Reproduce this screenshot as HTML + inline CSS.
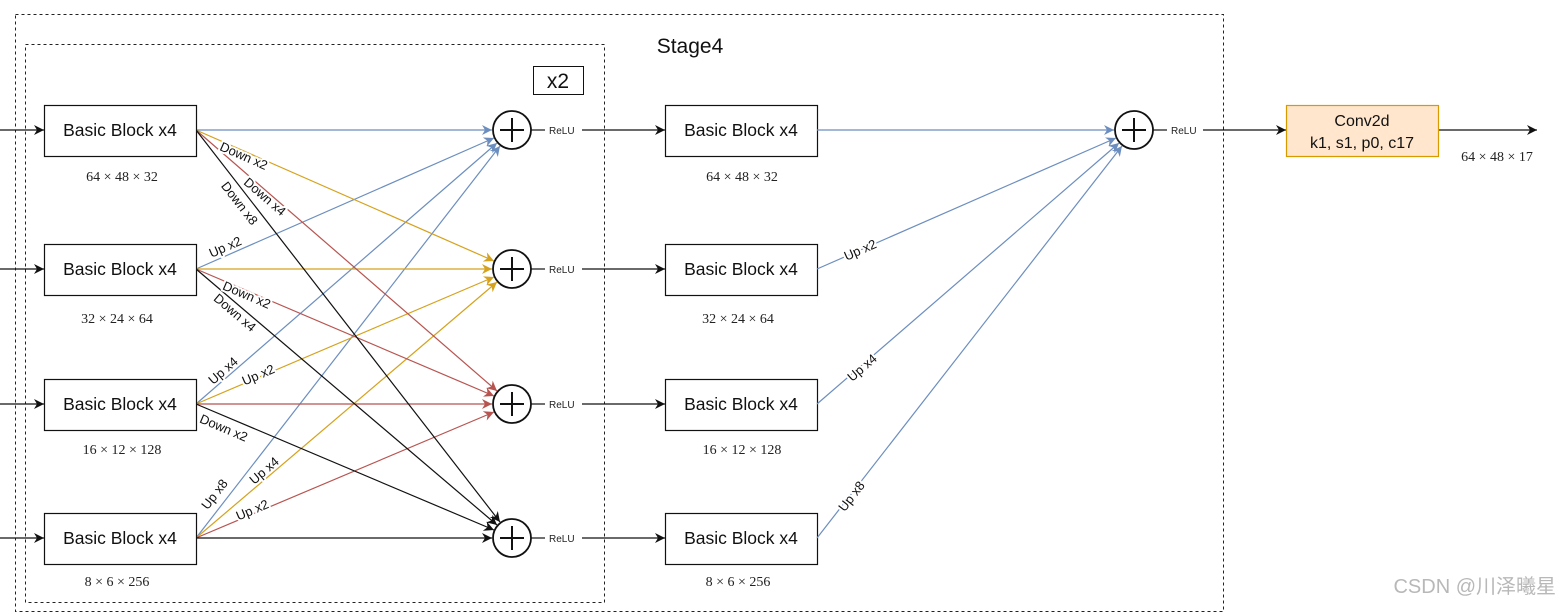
<!DOCTYPE html>
<html><head><meta charset="utf-8"><style>
html,body{margin:0;padding:0;background:#fff;}
svg{display:block;}
.bt{font-family:"Liberation Sans",sans-serif;font-size:17.5px;fill:#111;}
.dim{font-family:"Liberation Serif",serif;font-size:14px;fill:#222;}
.relu{font-family:"Liberation Sans",sans-serif;font-size:10px;fill:#222;}
.el{font-family:"Liberation Sans",sans-serif;font-size:13px;fill:#111;stroke:#fff;stroke-width:4px;paint-order:stroke;stroke-linejoin:round;}
</style></head><body>
<svg width="1564" height="613" viewBox="0 0 1564 613" xmlns="http://www.w3.org/2000/svg">
<defs>
<marker id="ab" viewBox="0 0 10 10" refX="10" refY="5" markerWidth="10" markerHeight="10" markerUnits="userSpaceOnUse" orient="auto"><path d="M0,0 L10,5 L0,10 L3,5 z" fill="#6c8ebf"/></marker>
<marker id="ay" viewBox="0 0 10 10" refX="10" refY="5" markerWidth="10" markerHeight="10" markerUnits="userSpaceOnUse" orient="auto"><path d="M0,0 L10,5 L0,10 L3,5 z" fill="#d6a21d"/></marker>
<marker id="ar" viewBox="0 0 10 10" refX="10" refY="5" markerWidth="10" markerHeight="10" markerUnits="userSpaceOnUse" orient="auto"><path d="M0,0 L10,5 L0,10 L3,5 z" fill="#b85450"/></marker>
<marker id="ak" viewBox="0 0 10 10" refX="10" refY="5" markerWidth="10" markerHeight="10" markerUnits="userSpaceOnUse" orient="auto"><path d="M0,0 L10,5 L0,10 L3,5 z" fill="#111"/></marker>
</defs>
<rect x="15.5" y="14.5" width="1208" height="597" fill="none" stroke="#222" stroke-dasharray="3,3"/>
<rect x="25.5" y="44.5" width="579" height="558" fill="none" stroke="#222" stroke-dasharray="3,3"/>
<text x="690" y="53" class="bt" style="font-size:21px" text-anchor="middle">Stage4</text>
<rect x="533.5" y="66.5" width="50" height="28" fill="#fff" stroke="#111"/>
<text x="558" y="88" class="bt" style="font-size:21px" text-anchor="middle">x2</text>

<g stroke="#111" stroke-width="1.2" marker-end="url(#ak)">
<line x1="0" y1="130" x2="44" y2="130"/><line x1="0" y1="269" x2="44" y2="269"/>
<line x1="0" y1="404" x2="44" y2="404"/><line x1="0" y1="538" x2="44" y2="538"/>
</g>

<g fill="none" stroke-width="1.2">
<line x1="196" y1="130" x2="492" y2="130" stroke="#6c8ebf" marker-end="url(#ab)"/>
<line x1="196" y1="269" x2="494" y2="138" stroke="#6c8ebf" marker-end="url(#ab)"/>
<line x1="196" y1="404" x2="497" y2="143" stroke="#6c8ebf" marker-end="url(#ab)"/>
<line x1="196" y1="538" x2="500" y2="146" stroke="#6c8ebf" marker-end="url(#ab)"/>
<line x1="196" y1="130" x2="494" y2="261" stroke="#d6a21d" marker-end="url(#ay)"/>
<line x1="196" y1="269" x2="492" y2="269" stroke="#d6a21d" marker-end="url(#ay)"/>
<line x1="196" y1="404" x2="494" y2="277" stroke="#d6a21d" marker-end="url(#ay)"/>
<line x1="196" y1="538" x2="497" y2="282" stroke="#d6a21d" marker-end="url(#ay)"/>
<line x1="196" y1="130" x2="497" y2="391" stroke="#b85450" marker-end="url(#ar)"/>
<line x1="196" y1="269" x2="494" y2="396" stroke="#b85450" marker-end="url(#ar)"/>
<line x1="196" y1="404" x2="492" y2="404" stroke="#b85450" marker-end="url(#ar)"/>
<line x1="196" y1="538" x2="494" y2="412" stroke="#b85450" marker-end="url(#ar)"/>
<line x1="196" y1="130" x2="500" y2="522" stroke="#111" marker-end="url(#ak)"/>
<line x1="196" y1="269" x2="497" y2="525" stroke="#111" marker-end="url(#ak)"/>
<line x1="196" y1="404" x2="494" y2="530" stroke="#111" marker-end="url(#ak)"/>
<line x1="196" y1="538" x2="492" y2="538" stroke="#111" marker-end="url(#ak)"/>
</g>
<text class="el" text-anchor="middle" transform="translate(242,160) rotate(23.7)">Down x2</text>
<text class="el" text-anchor="middle" transform="translate(262,200) rotate(40.9)">Down x4</text>
<text class="el" text-anchor="middle" transform="translate(236,206) rotate(52.2)">Down x8</text>
<text class="el" text-anchor="middle" transform="translate(227,251) rotate(-23.7)">Up x2</text>
<text class="el" text-anchor="middle" transform="translate(245,299) rotate(23.1)">Down x2</text>
<text class="el" text-anchor="middle" transform="translate(232,316) rotate(40.4)">Down x4</text>
<text class="el" text-anchor="middle" transform="translate(226,374) rotate(-40.9)">Up x4</text>
<text class="el" text-anchor="middle" transform="translate(260,379) rotate(-23.1)">Up x2</text>
<text class="el" text-anchor="middle" transform="translate(222,432) rotate(23)">Down x2</text>
<text class="el" text-anchor="middle" transform="translate(218,497) rotate(-52.2)">Up x8</text>
<text class="el" text-anchor="middle" transform="translate(267,474) rotate(-40.4)">Up x4</text>
<text class="el" text-anchor="middle" transform="translate(254,514) rotate(-23)">Up x2</text>

<g fill="#fff" stroke="#111" stroke-width="1.2">
<rect x="44.5" y="105.5" width="152" height="51"/><rect x="44.5" y="244.5" width="152" height="51"/>
<rect x="44.5" y="379.5" width="152" height="51"/><rect x="44.5" y="513.5" width="152" height="51"/>
</g>
<g class="bt" text-anchor="middle">
<text x="120" y="136">Basic Block x4</text><text x="120" y="275">Basic Block x4</text>
<text x="120" y="410">Basic Block x4</text><text x="120" y="544">Basic Block x4</text>
</g>
<g class="dim" text-anchor="middle">
<text x="122" y="181">64 × 48 × 32</text><text x="117" y="323">32 × 24 × 64</text>
<text x="122" y="454">16 × 12 × 128</text><text x="117" y="586">8 × 6 × 256</text>
</g>

<g fill="#fff" stroke="#111" stroke-width="1.8">
<circle cx="512" cy="130" r="19"/><circle cx="512" cy="269" r="19"/>
<circle cx="512" cy="404" r="19"/><circle cx="512" cy="538" r="19"/>
<circle cx="1134" cy="130" r="19"/>
</g>
<g stroke="#111" stroke-width="2">
<path d="M512,118V142M500,130H524"/><path d="M512,257V281M500,269H524"/>
<path d="M512,392V416M500,404H524"/><path d="M512,526V550M500,538H524"/>
<path d="M1134,118V142M1122,130H1146"/>
</g>
<g stroke="#111" stroke-width="1.2">
<line x1="531" y1="130" x2="545" y2="130"/><line x1="531" y1="269" x2="545" y2="269"/>
<line x1="531" y1="404" x2="545" y2="404"/><line x1="531" y1="538" x2="545" y2="538"/>
<line x1="1153" y1="130" x2="1167" y2="130"/>
</g>
<g stroke="#111" stroke-width="1.2" marker-end="url(#ak)">
<line x1="582" y1="130" x2="665" y2="130"/><line x1="582" y1="269" x2="665" y2="269"/>
<line x1="582" y1="404" x2="665" y2="404"/><line x1="582" y1="538" x2="665" y2="538"/>
<line x1="1203" y1="130" x2="1286" y2="130"/>
<line x1="1438" y1="130" x2="1537" y2="130"/>
</g>
<g class="relu">
<text x="549" y="134">ReLU</text><text x="549" y="273">ReLU</text>
<text x="549" y="408">ReLU</text><text x="549" y="542">ReLU</text>
<text x="1171" y="134">ReLU</text>
</g>

<g fill="#fff" stroke="#111" stroke-width="1.2">
<rect x="665.5" y="105.5" width="152" height="51"/><rect x="665.5" y="244.5" width="152" height="51"/>
<rect x="665.5" y="379.5" width="152" height="51"/><rect x="665.5" y="513.5" width="152" height="51"/>
</g>
<g class="bt" text-anchor="middle">
<text x="741" y="136">Basic Block x4</text><text x="741" y="275">Basic Block x4</text>
<text x="741" y="410">Basic Block x4</text><text x="741" y="544">Basic Block x4</text>
</g>
<g class="dim" text-anchor="middle">
<text x="742" y="181">64 × 48 × 32</text><text x="738" y="323">32 × 24 × 64</text>
<text x="742" y="454">16 × 12 × 128</text><text x="738" y="586">8 × 6 × 256</text>
</g>

<g fill="none" stroke="#6c8ebf" stroke-width="1.2" marker-end="url(#ab)">
<line x1="817" y1="130" x2="1114" y2="130"/>
<line x1="817" y1="269" x2="1116" y2="138"/>
<line x1="817" y1="404" x2="1119" y2="143"/>
<line x1="817" y1="538" x2="1122" y2="146"/>
</g>
<text class="el" text-anchor="middle" transform="translate(862,254) rotate(-23.7)">Up x2</text>
<text class="el" text-anchor="middle" transform="translate(865,371) rotate(-40.8)">Up x4</text>
<text class="el" text-anchor="middle" transform="translate(855,499) rotate(-52.2)">Up x8</text>

<rect x="1286.5" y="105.5" width="152" height="51" fill="#ffe6cc" stroke="#d79b00" stroke-width="1.2"/>
<text x="1362" y="126" class="bt" style="font-size:16px" text-anchor="middle">Conv2d</text>
<text x="1362" y="148" class="bt" style="font-size:16px" text-anchor="middle">k1, s1, p0, c17</text>
<text x="1497" y="161" class="dim" text-anchor="middle">64 × 48 × 17</text>

<text x="1556" y="593" text-anchor="end" style="font-family:'Liberation Sans','Noto Sans CJK SC',sans-serif;font-size:20px;fill:#b8b8b8;">CSDN @川泽曦星</text>
</svg>
</body></html>
